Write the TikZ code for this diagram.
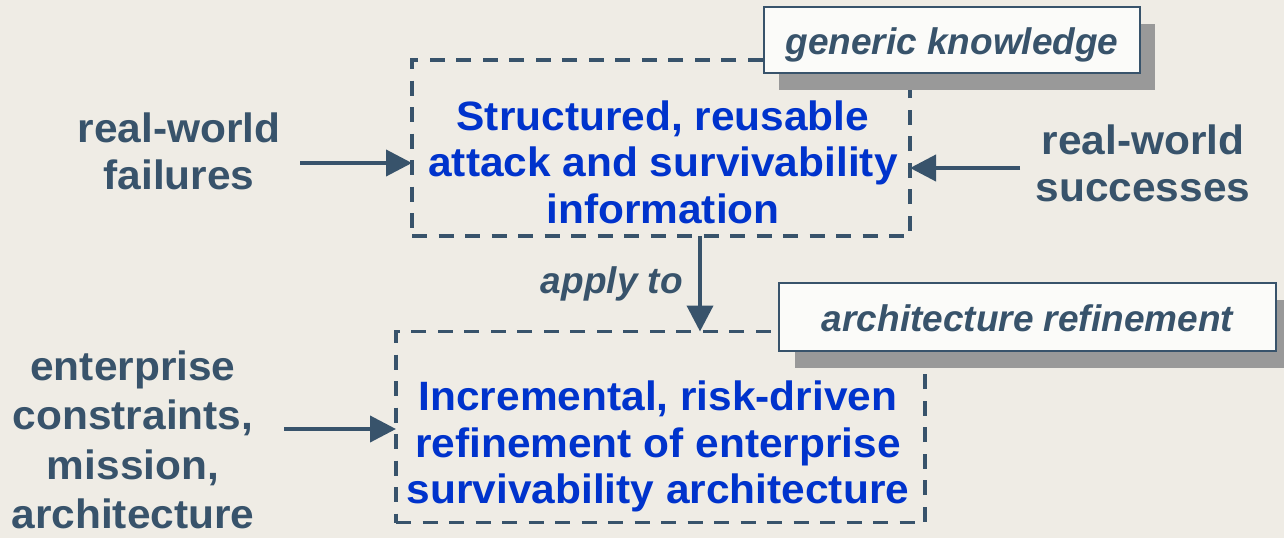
\documentclass[tikz,border=0pt]{standalone}
\usepackage{fontspec}
\setmainfont{Liberation Sans}
\newfontfamily\labelfont[FakeStretch=1.035]{Liberation Sans}
\usetikzlibrary{arrows.meta}

\definecolor{paper}{HTML}{EFECE5}
\definecolor{slate}{HTML}{38536B}
\definecolor{ink}{HTML}{0033CC}
\definecolor{tagfill}{HTML}{FBFBF9}
\definecolor{shade}{HTML}{999999}

\tikzset{
  dbox/.style={draw=slate, line width=3.2pt, dash pattern=on 15pt off 11.5pt,
    inner sep=0pt, outer sep=0pt},
  boxtext/.style={text=ink, align=center, inner sep=0pt,
    font=\labelfont\bfseries\fontsize{41}{46.5}\selectfont},
  sidetext/.style={text=slate, align=center, inner sep=0pt,
    font=\labelfont\bfseries\fontsize{41}{47}\selectfont},
  tagbox/.style={draw=slate, line width=2pt, fill=tagfill, text=slate,
    inner sep=0pt, text height=36pt, text depth=8pt,
    font=\bfseries\itshape\fontsize{37}{40}\selectfont},
  tagshadow/.style={fill=shade, inner sep=0pt},
  note/.style={text=slate, inner sep=0pt,
    font=\bfseries\itshape\fontsize{37}{40}\selectfont},
  arr/.style={draw=slate, line width=4pt, -{Triangle[length=26pt,width=26pt]}},
}

\begin{document}
\begin{tikzpicture}[x=1pt, y=-1pt]
  \useasboundingbox (0,0) rectangle (1284,538);
  \clip (0,0) rectangle (1284,538);
  \fill[paper] (0,0) rectangle (1284,538);

  % the two dashed frames
  \node[dbox, minimum width=498pt, minimum height=176pt] (know) at (661,148) {};
  \node[dbox, minimum width=529pt, minimum height=191pt] (arch) at (660.5,427) {};

  % their contents
  \node[boxtext] (knowtext) at (663,162)
    {Structured, reusable\\attack and survivability\\information};
  \node[boxtext] (archtext) at (658,446.6)
    {Incremental, risk-driven\\refinement of enterprise\\survivability architecture};

  % inputs on either side
  \node[sidetext] (fail) at (179,151) {real-world\\failures};
  \node[sidetext] (succ) at (1143,163) {real-world\\successes};
  \node[sidetext, font=\labelfont\bfseries\fontsize{41}{49.5}\selectfont]
    (ent) at (133,440) {enterprise\\constraints,\\mission,\\architecture};

  % arrows into the frames
  \coordinate (failtail) at (300,163);
  \coordinate (succtail) at (1020,168);
  \coordinate (enttail) at (284,429);
  \coordinate (applyx) at (700,0);
  \draw[arr] (failtail) -- (failtail -| know.west);
  \draw[arr] (succtail) -- (succtail -| know.east);
  \draw[arr] (enttail) -- (enttail -| arch.west);
  \draw[arr] (know.south -| applyx) -- (arch.north -| applyx);
  \node[note, anchor=base east] (apply) at (683,293) {apply to};

  % tags with drop shadows
  \node[tagshadow, minimum width=376pt, minimum height=66pt] (gshadow) at (967,57) {};
  \node[tagshadow, minimum width=497pt, minimum height=68pt] (ashadow) at (1043.5,334) {};
  \node[tagbox, minimum width=376pt, minimum height=66pt] (gtag) at (952,40) {generic knowledge};
  \node[tagbox, minimum width=497pt, minimum height=68pt] (atag) at (1027.5,317) {architecture refinement};
\end{tikzpicture}
\end{document}
